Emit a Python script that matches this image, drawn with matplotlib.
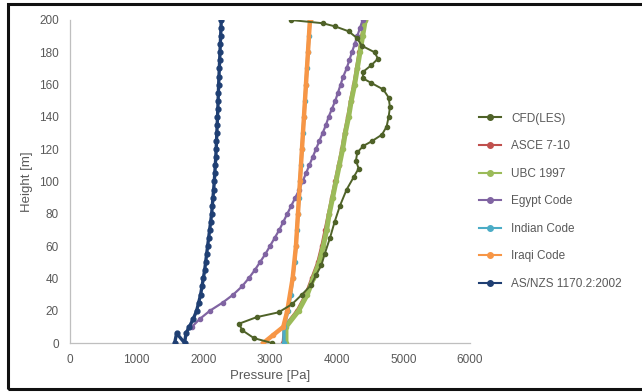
import matplotlib.pyplot as plt
from matplotlib.patches import Rectangle

# Wind pressure profiles: CFD result against the code provisions
labels = ['CFD(LES)', 'ASCE 7-10', 'UBC 1997', 'Egypt Code',
          'Indian Code', 'Iraqi Code', 'AS/NZS 1170.2:2002']
colors = ['#4F6228', '#C0504D', '#9BBB59', '#8064A2',
          '#4BACC6', '#F79646', '#1F3F73']

cfd_z = [0, 3, 8, 12, 16, 19, 24, 30, 36, 42, 48, 55, 65, 75, 85, 95, 103, 108,
         113, 118, 122, 125, 129, 134, 140, 146, 152, 157, 161, 164, 168, 172,
         176, 180, 184, 189, 193, 196, 198, 200]
cfd_p = [3030, 2760, 2580, 2540, 2800, 3130, 3330, 3480, 3620, 3690, 3770, 3820,
         3900, 3970, 4050, 4150, 4260, 4330, 4290, 4310, 4400, 4530, 4680, 4750,
         4780, 4800, 4780, 4700, 4520, 4390, 4400, 4520, 4620, 4570, 4380, 4300,
         4180, 3980, 3790, 3310]

code_z = [0, 10, 20, 30, 40, 50, 60, 70, 80, 90, 100, 110, 120, 130, 140, 150,
          160, 170, 180, 190, 200]
asce_p = [3200, 3220, 3410, 3540, 3630, 3720, 3780, 3830, 3880, 3930, 3980, 4030,
          4080, 4120, 4170, 4210, 4260, 4300, 4340, 4380, 4420]
ubc_p = [3240, 3240, 3430, 3560, 3650, 3740, 3800, 3850, 3890, 3940, 3990, 4040,
         4090, 4130, 4180, 4220, 4270, 4310, 4350, 4390, 4430]
indian_p = [3210, 3210, 3270, 3310, 3340, 3370, 3390, 3405, 3420, 3435, 3450,
            3465, 3480, 3495, 3510, 3525, 3540, 3555, 3570, 3585, 3600]

egypt_z = [10, 15, 20, 25, 30, 35, 40, 45, 50, 55, 60, 65, 70, 75, 80, 85, 90,
           95, 100, 105, 110, 115, 120, 125, 130, 135, 140, 145, 150, 155, 160,
           165, 170, 175, 180, 185, 190, 195, 200]
egypt_p = [1830, 1950, 2100, 2290, 2450, 2580, 2680, 2770, 2850, 2930, 3000, 3070,
           3140, 3200, 3260, 3320, 3380, 3440, 3490, 3540, 3590, 3640, 3690, 3740,
           3790, 3840, 3880, 3930, 3980, 4020, 4060, 4100, 4150, 4190, 4230, 4270,
           4310, 4350, 4390]

iraqi_z = [0, 5, 10, 20, 40, 60, 80, 100, 120, 140, 160, 180, 200]
iraqi_p = [2900, 3050, 3200, 3260, 3340, 3390, 3420, 3450, 3480, 3510, 3540, 3570, 3600]

asnzs_z = [0, 6, 0, 6, 10, 15, 20, 25, 30, 35, 40, 45, 50, 55, 60, 65, 70, 75, 80,
           85, 90, 95, 100, 105, 110, 115, 120, 125, 130, 135, 140, 145, 150, 155,
           160, 165, 170, 175, 180, 185, 190, 195, 200]
asnzs_p = [1570, 1600, 1720, 1740, 1790, 1850, 1900, 1930, 1960, 1980, 2000, 2020,
           2035, 2050, 2065, 2080, 2095, 2110, 2125, 2135, 2145, 2155, 2165, 2172,
           2180, 2187, 2193, 2198, 2203, 2208, 2213, 2218, 2222, 2226, 2230, 2235,
           2240, 2245, 2250, 2255, 2260, 2265, 2270]

x_ticks = [0, 1000, 2000, 3000, 4000, 5000, 6000]
y_ticks = [0, 20, 40, 60, 80, 100, 120, 140, 160, 180, 200]

plt.rcParams['font.family'] = ['Liberation Sans', 'DejaVu Sans']
text_col = '#595959'

fig = plt.figure(figsize=(6.42, 3.92), dpi=100, facecolor='white')
ax = fig.add_axes([0.109, 0.125, 0.623, 0.824])

series = [
    (cfd_p, cfd_z, 1.4, 3, 9),
    (asce_p, code_z, 2.5, 3, 2),
    (ubc_p, code_z, 3.6, 3, 3),
    (egypt_p, egypt_z, 1.6, 3, 4),
    (indian_p, code_z, 2.4, 3, 5),
    (iraqi_p, iraqi_z, 3.2, 3, 6),
    (asnzs_p, asnzs_z, 2.4, 3.5, 7),
]
for (p, z, lw, ms, zo), lab, col in zip(series, labels, colors):
    ax.plot(p, z, color=col, lw=lw, marker='o', ms=ms, mec=col, mfc=col,
            label=lab, zorder=zo)

ax.set_xlim(0, 6000)
ax.set_ylim(0, 200)
ax.set_xticks(x_ticks)
ax.set_yticks(y_ticks)
ax.tick_params(labelsize=8.5, colors=text_col, length=0, pad=8)
for side in ('top', 'right'):
    ax.spines[side].set_visible(False)
for side in ('left', 'bottom'):
    ax.spines[side].set_color('#BFBFBF')
    ax.spines[side].set_linewidth(0.9)
ax.set_xlabel('Pressure [Pa]', fontsize=9.5, color=text_col, labelpad=3)
ax.set_ylabel('Height [m]', fontsize=9.5, color=text_col, labelpad=4)

leg = fig.legend(loc='upper left', bbox_to_anchor=(0.737, 0.728), frameon=False,
                 fontsize=8.5, labelspacing=1.32, handlelength=1.9,
                 handletextpad=0.8, borderpad=0)
for t in leg.get_texts():
    t.set_color(text_col)
for h in leg.legend_handles:
    h.set_linewidth(1.5)
    h.set_markersize(4)

# outer chart frame
fig.patches.append(Rectangle((0.012, 0.007), 1.1, 0.982, transform=fig.transFigure,
                             fill=False, ec='#111111', lw=2.2))

fig.savefig('out.png', dpi=100, facecolor='white')
